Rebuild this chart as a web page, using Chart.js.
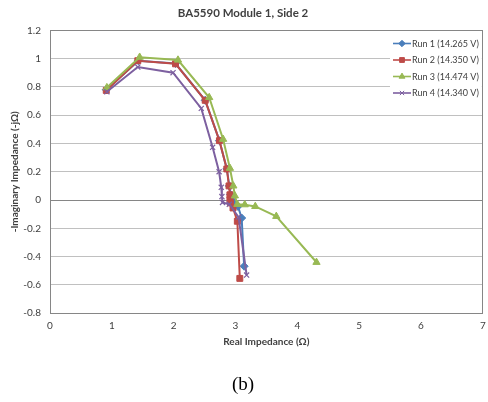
<!DOCTYPE html>
<html>
<head>
<meta charset="utf-8">
<script src="https://cdn.jsdelivr.net/npm/chart.js@4.4.0/dist/chart.umd.min.js"></script>
<style>
  html, body { margin: 0; padding: 0; background: #ffffff; }
  #wrap { width: 488px; height: 402px; position: relative; }
</style>
</head>
<body>
<div id="wrap"><canvas id="c" width="488" height="402"></canvas></div>
<script>
// ---- Data ----
const chartTitle = "BA5590 Module 1, Side 2";
const captionText = "(b)";
const xAxisTitle = "Real Impedance (\u03A9)";
const yAxisTitle = "-Imaginary Impedance (-j\u03A9)";
const seriesNames = ["Run 1 (14.265 V)", "Run 2 (14.350 V)", "Run 3 (14.474 V)", "Run 4 (14.340 V)"];

const run1X = [0.91, 1.43, 2.03, 2.51, 2.74, 2.86, 2.90, 2.92, 2.94, 2.97, 3.04, 3.10, 3.14];
const run1Y = [0.78, 0.985, 0.965, 0.705, 0.42, 0.22, 0.10, 0.04, 0.00, -0.02, -0.045, -0.127, -0.468];

const run2X = [0.91, 1.42, 2.03, 2.51, 2.74, 2.86, 2.895, 2.91, 2.91, 2.92, 2.96, 3.03, 3.07];
const run2Y = [0.775, 0.985, 0.963, 0.705, 0.42, 0.22, 0.10, 0.037, 0.00, -0.02, -0.056, -0.15, -0.554];

const run3X = [0.92, 1.45, 2.07, 2.575, 2.80, 2.91, 2.965, 2.99, 3.03, 3.15, 3.32, 3.66, 4.31];
const run3Y = [0.795, 1.01, 0.99, 0.725, 0.43, 0.225, 0.10, 0.03, -0.03, -0.033, -0.045, -0.115, -0.44];

const run4X = [0.92, 1.42, 1.99, 2.447, 2.63, 2.735, 2.77, 2.78, 2.79, 2.90, 3.05, 3.18];
const run4Y = [0.765, 0.94, 0.90, 0.648, 0.373, 0.20, 0.09, 0.025, -0.017, -0.03, -0.12, -0.53];

const xTickMin = 0, xTickMax = 7, xTickStep = 1;
const yTickMin = -0.8, yTickMax = 1.2, yTickStep = 0.2;

// ---- Styles ----
const colors = ["#4A7EBB", "#BE4B48", "#98B954", "#7D60A0"];
const markers = ["rectRot", "rect", "triangle", "crossRot"];
const markerRadius = [4, 4.2, 4.2, 3.6];
const legendRadius = [3.2, 3.4, 3.4, 3];
const FONT = "Lato, 'Open Sans', 'Liberation Sans', sans-serif";

function pts(xs, ys) { return xs.map((x, i) => ({ x: x, y: ys[i] })); }
const allX = [run1X, run2X, run3X, run4X];
const allY = [run1Y, run2Y, run3Y, run4Y];

const datasets = seriesNames.map((name, i) => ({
  label: name,
  data: pts(allX[i], allY[i]),
  borderColor: colors[i],
  backgroundColor: colors[i],
  pointStyle: markers[i],
  pointRadius: markerRadius[i],
  pointBorderColor: colors[i],
  pointBackgroundColor: colors[i],
  pointBorderWidth: i === 3 ? 1.2 : 1,
  borderWidth: 2,
  showLine: true,
  tension: 0,
  order: 3 - i
}));

const frameAndLegend = {
  id: 'frameAndLegend',
  afterDraw(chart) {
    const ctx = chart.ctx;
    const a = chart.chartArea;
    ctx.save();
    // plot frame
    ctx.strokeStyle = "#868686";
    ctx.lineWidth = 1;
    ctx.strokeRect(Math.round(a.left) + 0.5, Math.round(a.top) + 0.5,
                   Math.round(a.right - a.left) - 1, Math.round(a.bottom - a.top));
    // legend box (white, no border)
    const lx = 390, ly = 34, lw = a.right - 391, lh = 66;
    ctx.fillStyle = "#ffffff";
    ctx.fillRect(lx, ly, lw, lh);
    const rowY = [43.5, 60, 76.5, 93];
    ctx.font = "9px " + FONT;
    ctx.textBaseline = "middle";
    ctx.textAlign = "left";
    seriesNames.forEach((name, i) => {
      const y = rowY[i];
      ctx.strokeStyle = colors[i];
      ctx.lineWidth = 1.6;
      ctx.beginPath();
      ctx.moveTo(393, y);
      ctx.lineTo(411, y);
      ctx.stroke();
      ctx.fillStyle = colors[i];
      ctx.strokeStyle = colors[i];
      ctx.lineWidth = 1;
      Chart.helpers.drawPoint(ctx, {
        pointStyle: markers[i], radius: legendRadius[i], borderWidth: 1
      }, 402, y);
      ctx.fillStyle = "#404040";
      ctx.fillText(name, 412, y + 0.5);
    });
    ctx.restore();
  }
};

new Chart(document.getElementById('c'), {
  type: 'scatter',
  data: { datasets: datasets },
  options: {
    responsive: false,
    animation: false,
    devicePixelRatio: 1,
    layout: { padding: { left: 0, right: 2, top: 1, bottom: 0 } },
    plugins: {
      legend: { display: false },
      tooltip: { enabled: false },
      title: {
        display: true,
        text: chartTitle,
        color: "#404040",
        font: { family: FONT, size: 11.5, weight: 'bold' },
        padding: { top: 5, bottom: 10.5 }
      },
      subtitle: {
        display: true,
        position: 'bottom',
        text: captionText,
        color: "#000000",
        font: { family: "'Liberation Serif', 'DejaVu Serif', serif", size: 19, weight: 'normal' },
        padding: { top: 0, bottom: 6 }
      }
    },
    scales: {
      x: {
        type: 'linear',
        min: xTickMin, max: xTickMax,
        ticks: {
          stepSize: xTickStep,
          color: "#404040",
          font: { family: FONT, size: 10 },
          padding: 7,
          maxRotation: 0,
          autoSkip: false
        },
        grid: { display: false, drawTicks: false },
        border: { display: false },
        title: {
          display: true, text: xAxisTitle, color: "#404040",
          font: { family: FONT, size: 10, weight: 'bold' },
          padding: { top: 0, bottom: 25 }
        },
        afterFit(s) { s.height = 60; s.paddingLeft = 0; s.paddingRight = 0; }
      },
      y: {
        type: 'linear',
        min: yTickMin, max: yTickMax,
        ticks: {
          stepSize: yTickStep,
          color: "#404040",
          font: { family: FONT, size: 10 },
          padding: 9,
          callback: v => String(Number(v.toFixed(1)))
        },
        grid: {
          drawTicks: false,
          color: ctx => (ctx.tick && Math.abs(ctx.tick.value) < 1e-9) ? "#868686" : "#C0C0C0",
          lineWidth: 1
        },
        border: { display: false },
        title: {
          display: true, text: yAxisTitle, color: "#404040",
          font: { family: FONT, size: 10, weight: 'bold' },
          padding: { top: 9, bottom: 0 }
        },
        afterFit(s) { s.width = 50; s.paddingTop = 0; s.paddingBottom = 0; }
      }
    }
  },
  plugins: [frameAndLegend]
});
</script>
</body>
</html>
